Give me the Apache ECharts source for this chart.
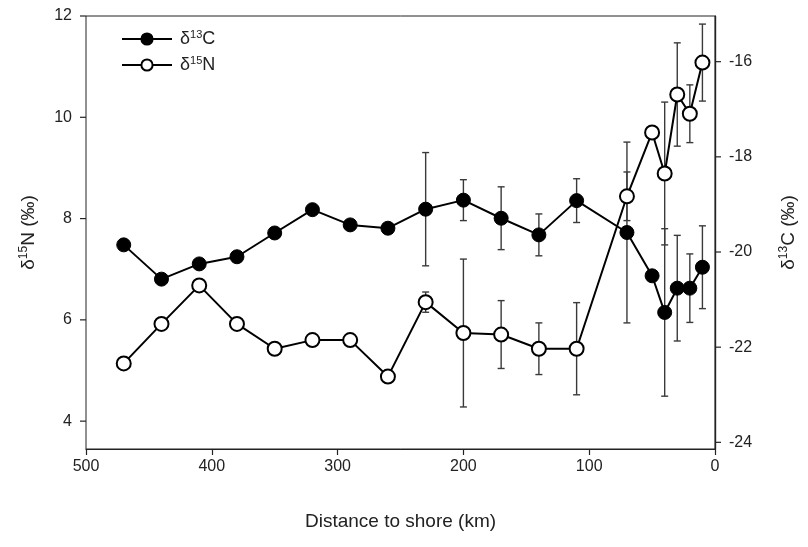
<!DOCTYPE html>
<html>
<head>
<meta charset="utf-8">
<script src="https://cdn.jsdelivr.net/npm/echarts@6/dist/echarts.min.js"></script>
<style>html,body{margin:0;padding:0;background:#fff}#c{width:808px;height:547px}</style>
</head>
<body>
<div id="c"></div>
<script>
// distance to shore (km)
var distance = [470,440,410,380,350,320,290,260,230,200,170,140,110,70,50,40,30,20,10];
// δ13C (‰), right axis
var d13C = [-19.85,-20.57,-20.25,-20.10,-19.60,-19.11,-19.43,-19.50,-19.10,-18.91,-19.29,-19.64,-18.92,-19.59,-20.50,-21.27,-20.76,-20.76,-20.32];
var d13Cerr = [null,null,null,null,null,null,null,null,1.19,0.43,0.66,0.44,0.46,1.90,null,1.76,1.11,0.72,0.87];
// δ15N (‰), left axis
var d15N = [5.14,5.92,6.68,5.92,5.43,5.60,5.60,4.88,6.35,5.74,5.71,5.43,5.43,8.44,9.70,8.89,10.45,10.07,11.08];
var d15Nerr = [null,null,null,null,null,null,null,null,0.20,1.46,0.67,0.51,0.91,0.48,null,1.41,1.02,0.57,0.76];
// axis ticks
var xTicks = [0,100,200,300,400,500];
var leftTicks = [4,6,8,10,12];
var rightTicks = [-24,-22,-20,-18,-16];

var FONT = 'Liberation Sans, Arial, sans-serif';
var TXT = '#222';
var xMin = xTicks[0], xMax = xTicks[xTicks.length-1];

function pairs(xs, ys){ return xs.map(function(x,i){ return [x, ys[i]]; }); }
function errData(xs, ys, es){
  var out = [];
  xs.forEach(function(x,i){ if (es[i] != null) out.push([x, ys[i], es[i]]); });
  return out;
}
function errRender(params, api){
  var x = api.value(0), y = api.value(1), e = api.value(2);
  var hi = api.coord([x, y + e]);
  var lo = api.coord([x, y - e]);
  var cw = 3.5;
  var st = {stroke:'#3a3a3a', lineWidth:1.4};
  return {type:'group', children:[
    {type:'line', shape:{x1:hi[0], y1:hi[1], x2:lo[0], y2:lo[1]}, style:st},
    {type:'line', shape:{x1:hi[0]-cw, y1:hi[1], x2:hi[0]+cw, y2:hi[1]}, style:st},
    {type:'line', shape:{x1:lo[0]-cw, y1:lo[1], x2:lo[0]+cw, y2:lo[1]}, style:st}
  ]};
}
function tickRender(dir){
  return function(params, api){
    var p = api.coord([api.value(0), api.value(1)]);
    return {type:'line', shape:{x1:p[0], y1:p[1], x2:p[0] + dir*6, y2:p[1]}, style:{stroke:'#222', lineWidth:1.2}};
  };
}

var rich = {
  a:{fontSize:19, lineHeight:21, fontFamily:FONT, color:TXT},
  s:{fontSize:12, lineHeight:12, fontFamily:FONT, color:TXT, verticalAlign:'top'}
};
var richL = {
  a:{fontSize:18, lineHeight:20, fontFamily:FONT, color:TXT},
  s:{fontSize:11, lineHeight:12, fontFamily:FONT, color:TXT, verticalAlign:'top'}
};

var chart = echarts.init(document.getElementById('c'), null, {renderer:'canvas'});
chart.setOption({
  animation:false,
  backgroundColor:'#fff',
  grid:{left:86, right:93, top:16, bottom:98, show:true, borderColor:'#222', borderWidth:1},
  legend:{
    orient:'vertical', left:116, top:24, itemWidth:50, itemHeight:14, itemGap:7,
    data:['C','N'],
    formatter:function(n){ return n==='C' ? '{a|δ}{s|13}{a|C}' : '{a|δ}{s|15}{a|N}'; },
    textStyle:{rich:richL, padding:[0,0,0,3]}
  },
  xAxis:{
    type:'value', min:xMin, max:xMax, interval:100, inverse:true,
    name:'Distance to shore (km)', nameLocation:'middle', nameGap:63,
    nameTextStyle:{fontSize:19, fontFamily:FONT, color:TXT},
    axisLine:{show:true, lineStyle:{color:'#222', width:1.2}},
    axisTick:{show:true, inside:false, length:6, lineStyle:{color:'#222', width:1.2}},
    axisLabel:{fontSize:16, fontFamily:FONT, color:TXT, margin:10},
    splitLine:{show:false}
  },
  yAxis:[
    {
      type:'value', position:'left', min:3.45, max:12,
      name:'{a|δ}{s|15}{a|N (‰)}', nameLocation:'middle', nameGap:47, nameRotate:90,
      nameTextStyle:{rich:rich},
      axisLine:{show:true, lineStyle:{color:'#222', width:1.2}},
      axisTick:{show:false},
      axisLabel:{fontSize:16, fontFamily:FONT, color:TXT, margin:14, customValues:leftTicks},
      splitLine:{show:false}
    },
    {
      type:'value', position:'right', min:-24.14, max:-15.04,
      name:'{a|δ}{s|13}{a|C (‰)}', nameLocation:'middle', nameGap:63, nameRotate:90,
      nameTextStyle:{rich:rich},
      axisLine:{show:true, lineStyle:{color:'#222', width:1.2}},
      axisTick:{show:false},
      axisLabel:{fontSize:16, fontFamily:FONT, color:TXT, margin:14, customValues:rightTicks},
      splitLine:{show:false}
    }
  ],
  series:[
    {type:'custom', name:'ticksL', yAxisIndex:0, renderItem:tickRender(-1), data:leftTicks.map(function(v){return [xMax, v];}), silent:true, clip:false, z:2},
    {type:'custom', name:'ticksR', yAxisIndex:1, renderItem:tickRender(1), data:rightTicks.map(function(v){return [xMin, v];}), silent:true, clip:false, z:2},
    {type:'custom', name:'Cerr', yAxisIndex:1, renderItem:errRender, data:errData(distance,d13C,d13Cerr), z:1, encode:{x:0,y:1}, silent:true},
    {type:'custom', name:'Nerr', yAxisIndex:0, renderItem:errRender, data:errData(distance,d15N,d15Nerr), z:1, encode:{x:0,y:1}, silent:true},
    {
      type:'line', name:'C', yAxisIndex:1, data:pairs(distance,d13C), z:3,
      symbol:'circle', symbolSize:14, showAllSymbol:true,
      lineStyle:{color:'#000', width:2},
      itemStyle:{color:'#000', borderColor:'#000', borderWidth:1}
    },
    {
      type:'line', name:'N', yAxisIndex:0, data:pairs(distance,d15N), z:3,
      symbol:'circle', symbolSize:14, showAllSymbol:true,
      lineStyle:{color:'#000', width:2},
      itemStyle:{color:'#fff', borderColor:'#000', borderWidth:2}
    }
  ]
});
</script>
</body>
</html>
